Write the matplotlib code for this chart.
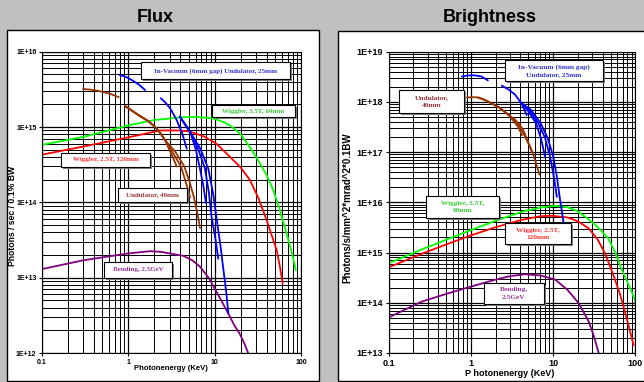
import matplotlib
matplotlib.use("Agg")
import matplotlib.pyplot as plt
from matplotlib.patches import Rectangle
from matplotlib.ticker import LogLocator, NullFormatter, FixedLocator, FixedFormatter

# ---------------- data: Flux panel ----------------
flux_wig35_E = [0.1, 0.3, 1, 2, 4.3, 6.5, 9.7, 13, 16, 20, 24, 28, 32, 40, 47.7, 57, 68, 78, 87]
flux_wig35_F = [5.8e14, 7.4e14, 1.05e15, 1.24e15, 1.35e15, 1.36e15, 1.3e15, 1.15e15, 1.0e15, 8.0e14,
                6.0e14, 4.6e14, 3.6e14, 2.3e14, 1.46e14, 7.8e13, 3.9e13, 2.2e13, 1.26e13]

flux_wig25_E = [0.1, 0.3, 1, 2.33, 3.96, 5.18, 7.5, 10.5, 15.1, 20, 25.6, 32, 40, 46, 52.4, 57, 61.4]
flux_wig25_F = [4.3e14, 5.5e14, 7.3e14, 9.0e14, 9.0e14, 8.7e14, 7.5e14, 6.0e14, 4.0e14, 2.9e14, 1.98e14,
                1.15e14, 5.8e13, 3.6e13, 2.3e13, 1.4e13, 8.4e12]

flux_bend_E = [0.1, 0.3, 1, 1.8, 2.4, 3, 4.33, 5.5, 6.76, 8.5, 10.5, 12.5, 15.1, 17, 19.5, 22, 24.4]
flux_bend_F = [1.3e13, 1.7e13, 2.1e13, 2.25e13, 2.2e13, 2.1e13, 1.95e13, 1.7e13, 1.4e13, 1.0e13, 6.5e12,
               4.5e12, 3.0e12, 2.3e12, 1.8e12, 1.35e12, 1.0e12]

flux_ivu_segs_E = [
    [0.80, 0.95, 1.14, 1.35, 1.56],
    [2.39, 2.7, 3.04, 3.63, 4.2, 4.74],
    [3.96, 4.5, 5.18, 6.0, 6.76, 7.4, 7.94],
    [3.96, 4.5, 5.18, 6.4, 7.73, 8.6, 9.25, 10.2, 11.0],
    [3.96, 4.5, 5.18, 6.8, 8.44, 9.6, 10.5, 11.6, 12.6, 13.6, 14.4],
]
flux_ivu_segs_F = [
    [4.9e15, 4.6e15, 4.1e15, 3.6e15, 3.1e15],
    [2.4e15, 2.1e15, 1.78e15, 1.24e15, 8.3e14, 5.2e14],
    [1.37e15, 1.1e15, 8.7e14, 5.2e14, 2.8e14, 1.65e14, 9.8e13],
    [1.37e15, 1.1e15, 8.7e14, 5.2e14, 2.8e14, 1.3e14, 6.2e13, 3.3e13, 1.8e13],
    [1.37e15, 1.1e15, 8.7e14, 5.2e14, 2.8e14, 1.3e14, 6.2e13, 2.8e13, 1.3e13, 6.5e12, 3.4e12],
]

flux_und_segs_E = [
    [0.30, 0.40, 0.49, 0.62, 0.77],
    [0.915, 1.1, 1.36, 1.7, 2.04, 2.35, 2.66, 3.2, 3.63],
    [0.915, 1.1, 1.36, 1.7, 2.04, 2.35, 2.66, 3.3, 4.07, 4.6, 5.18],
    [0.915, 1.1, 1.36, 1.7, 2.04, 2.35, 2.66, 3.5, 4.45, 5.1, 5.75, 6.3, 6.76],
]
flux_und_segs_F = [
    [3.2e15, 3.1e15, 2.95e15, 2.75e15, 2.5e15],
    [1.9e15, 1.65e15, 1.4e15, 1.2e15, 1.0e15, 8.3e14, 6.7e14, 4.2e14, 3.0e14],
    [1.9e15, 1.65e15, 1.4e15, 1.2e15, 1.0e15, 8.3e14, 6.7e14, 4.5e14, 3.0e14, 1.9e14, 1.17e14],
    [1.9e15, 1.65e15, 1.4e15, 1.2e15, 1.0e15, 8.3e14, 6.7e14, 4.7e14, 3.0e14, 1.9e14, 1.17e14, 7.2e13, 4.6e13],
]

# ---------------- data: Brightness panel ----------------
br_wig35_E = [0.1, 0.25, 0.5, 1, 2, 4.19, 7, 10.6, 15, 20, 27, 35, 47, 57, 69, 80, 90, 100]
br_wig35_B = [6.1e14, 1.15e15, 1.8e15, 2.8e15, 4.3e15, 6.5e15, 7.9e15, 8.5e15, 8.0e15, 6.6e15, 4.6e15,
              3.2e15, 1.9e15, 1.0e15, 4.5e14, 2.6e14, 1.7e14, 1.05e14]

br_wig25_E = [0.1, 0.25, 0.5, 1, 2, 4.19, 7, 9.7, 15, 20, 27, 35, 43, 50, 57, 65, 72, 85, 95]
br_wig25_B = [5.1e14, 9.4e14, 1.45e15, 2.2e15, 3.2e15, 4.5e15, 5.3e15, 5.4e15, 5.0e15, 4.2e15, 3.05e15,
              1.8e15, 9.5e14, 5.0e14, 2.8e14, 1.5e14, 8.3e13, 3.0e13, 1.45e13]

br_bend_E = [0.1, 0.25, 0.5, 1, 2, 3, 4.6, 7, 10.6, 15, 20.5, 27, 31, 35.9]
br_bend_B = [5.1e13, 1.05e14, 1.5e14, 2.1e14, 2.9e14, 3.4e14, 3.7e14, 3.5e14, 2.9e14, 1.8e14, 9.8e13,
             4.3e13, 2.3e13, 1.0e13]

br_ivu_segs_E = [
    [0.78, 0.9, 1.08, 1.35, 1.6],
    [2.39, 2.9, 3.44, 4.1, 4.77],
    [3.95, 5.0, 6.2, 7.1, 8.0],
    [3.95, 5.2, 6.6, 8.0, 9.17, 10.2, 11.1],
    [3.95, 5.4, 7.06, 8.6, 10.05, 11.1, 12.0, 12.8, 13.4],
]
br_ivu_segs_B = [
    [3.2e18, 3.35e18, 3.4e18, 3.2e18, 2.7e18],
    [2.1e18, 1.75e18, 1.4e18, 9.5e17, 5.5e17],
    [1.0e18, 6.5e17, 3.75e17, 1.9e17, 8.1e16],
    [1.0e18, 6.7e17, 3.75e17, 1.9e17, 8.1e16, 3.3e16, 1.3e16],
    [1.0e18, 6.9e17, 3.75e17, 1.9e17, 8.1e16, 3.3e16, 1.3e16, 6.5e15, 3.9e15],
]

br_und_segs_E = [
    [0.9, 1.05, 1.24, 1.45, 1.65, 2.2, 2.88, 3.3, 3.74, 4.19],
    [1.24, 1.45, 1.65, 2.2, 2.88, 3.3, 3.8, 4.3, 4.77, 5.2, 5.53],
    [1.65, 2.2, 2.88, 3.4, 3.9, 4.4, 4.96, 5.6, 6.2, 6.8],
]
br_und_segs_B = [
    [1.23e18, 1.24e18, 1.23e18, 1.12e18, 1.0e18, 7.8e17, 5.5e17, 4.2e17, 3.2e17, 2.2e17],
    [1.2e18, 1.1e18, 1.0e18, 7.7e17, 5.5e17, 4.4e17, 3.5e17, 2.5e17, 1.74e17, 1.3e17, 1.0e17],
    [1.0e18, 7.8e17, 5.5e17, 4.5e17, 3.6e17, 2.6e17, 1.6e17, 1.0e17, 6.0e16, 3.6e16],
]

xtick_vals = [0.1, 1, 10, 100]
xtick_labels = ["0.1", "1", "10", "100"]
flux_ytick_vals = [1e12, 1e13, 1e14, 1e15, 1e16]
flux_ytick_labels = ["1E+12", "1E+13", "1E+14", "1E+15", "1E+16"]
br_ytick_vals = [1e13, 1e14, 1e15, 1e16, 1e17, 1e18, 1e19]
br_ytick_labels = ["1E+13", "1E+14", "1E+15", "1E+16", "1E+17", "1E+18", "1E+19"]

C_BLUE = "#0000FF"
C_GREEN = "#00FF00"
C_RED = "#FF0000"
C_BROWN = "#993300"
C_PURPLE = "#800080"

W, H = 644, 382
fig = plt.figure(figsize=(W / 100, H / 100), dpi=100, facecolor="#C0C0C0")

# white panels
fig.patches.append(Rectangle((7 / W, 1 - 381 / H), 311.5 / W, 351.5 / H, transform=fig.transFigure,
                             facecolor="white", edgecolor="black", lw=1.0, zorder=-10))
fig.patches.append(Rectangle((338 / W, 1 - 381 / H), 320 / W, 350.5 / H, transform=fig.transFigure,
                             facecolor="white", edgecolor="black", lw=1.0, zorder=-10))

fig.text(155 / W, 1 - 17 / H, "Flux", ha="center", va="center", fontsize=13, fontweight="bold",
         family="Liberation Sans")
fig.text(490 / W, 1 - 17 / H, "Brightness", ha="center", va="center", fontsize=13, fontweight="bold",
         family="Liberation Sans")

ax1 = fig.add_axes([42 / W, 1 - 353 / H, 259 / W, 301.3 / H], zorder=2)
ax2 = fig.add_axes([388.7 / W, 1 - 353 / H, 246.6 / W, 301.3 / H], zorder=2)


def style_axes(ax, yvals, ylabels, ylim, fs_tick):
    ax.set_xscale("log")
    ax.set_yscale("log")
    ax.set_xlim(0.1, 100)
    ax.set_ylim(*ylim)
    ax.set_facecolor("white")
    ax.xaxis.set_major_locator(FixedLocator(xtick_vals))
    ax.xaxis.set_major_formatter(FixedFormatter(xtick_labels))
    ax.yaxis.set_major_locator(FixedLocator(yvals))
    ax.yaxis.set_major_formatter(FixedFormatter(ylabels))
    ax.xaxis.set_minor_locator(LogLocator(base=10, subs=range(2, 10), numticks=20))
    ax.yaxis.set_minor_locator(LogLocator(base=10, subs=range(2, 10), numticks=20))
    ax.xaxis.set_minor_formatter(NullFormatter())
    ax.yaxis.set_minor_formatter(NullFormatter())
    ax.grid(True, which="major", color="black", lw=0.9)
    ax.grid(True, which="minor", color="black", lw=0.7)
    ax.set_axisbelow(True)
    ax.tick_params(which="major", length=2.5, width=0.8, direction="out", pad=1.5)
    ax.tick_params(which="minor", length=0)
    for lab in ax.get_xticklabels() + ax.get_yticklabels():
        lab.set_fontsize(fs_tick)
        lab.set_fontweight("bold")
        lab.set_family("Liberation Sans")
    for s in ax.spines.values():
        s.set_color("black")
        s.set_linewidth(0.8)


style_axes(ax1, flux_ytick_vals, flux_ytick_labels, (1e12, 1e16), 5)
style_axes(ax2, br_ytick_vals, br_ytick_labels, (1e13, 1e19), 6.5)

LW = 1.3
# Flux curves
ax1.plot(flux_wig35_E, flux_wig35_F, color=C_GREEN, lw=LW)
ax1.plot(flux_wig25_E, flux_wig25_F, color=C_RED, lw=LW)
ax1.plot(flux_bend_E, flux_bend_F, color=C_PURPLE, lw=LW)
for e, f in zip(flux_und_segs_E, flux_und_segs_F):
    ax1.plot(e, f, color=C_BROWN, lw=LW)
for e, f in zip(flux_ivu_segs_E, flux_ivu_segs_F):
    ax1.plot(e, f, color=C_BLUE, lw=LW)

# Brightness curves
ax2.plot(br_wig35_E, br_wig35_B, color=C_GREEN, lw=LW)
ax2.plot(br_wig25_E, br_wig25_B, color=C_RED, lw=LW)
ax2.plot(br_bend_E, br_bend_B, color=C_PURPLE, lw=LW)
for e, b in zip(br_und_segs_E, br_und_segs_B):
    ax2.plot(e, b, color=C_BROWN, lw=LW)
for e, b in zip(br_ivu_segs_E, br_ivu_segs_B):
    ax2.plot(e, b, color=C_BLUE, lw=LW)


def label_box(ax, x0, x1, y0, y1, text, color, fs):
    bb = ax.get_position()
    dx = 2.0 / (bb.width * W)
    dy = 2.0 / (bb.height * H)
    ax.add_patch(Rectangle((x0 + dx, y0 - dy), x1 - x0, y1 - y0, transform=ax.transAxes,
                           facecolor="#808080", edgecolor="none", zorder=5, clip_on=False))
    ax.add_patch(Rectangle((x0, y0), x1 - x0, y1 - y0, transform=ax.transAxes,
                           facecolor="white", edgecolor="black", lw=0.8, zorder=6, clip_on=False))
    ax.text((x0 + x1) / 2, (y0 + y1) / 2, text, transform=ax.transAxes, ha="center", va="center",
            color=color, fontsize=fs, fontweight="bold", family="Liberation Serif", zorder=7,
            linespacing=1.6)


# Flux labels (axes fraction)
label_box(ax1, 0.381, 0.958, 0.908, 0.965, "In-Vacuum (6mm gap) Undulator, 25mm", "#3333CC", 5)
label_box(ax1, 0.655, 0.977, 0.782, 0.823, "Wiggler, 3.5T, 60mm", "#33CC33", 5)
label_box(ax1, 0.0734, 0.417, 0.618, 0.665, "Wiggler, 2.5T, 120mm", "#FF3333", 5)
label_box(ax1, 0.295, 0.561, 0.502, 0.547, "Undulator, 40mm", "#993333", 5)
label_box(ax1, 0.240, 0.503, 0.250, 0.303, "Bending, 2.5GeV", "#993399", 5)

# Brightness labels
label_box(ax2, 0.473, 0.868, 0.903, 0.973, "In-Vacuum (6mm gap)\nUndulator, 25mm", "#3333CC", 5.3)
label_box(ax2, 0.043, 0.304, 0.797, 0.873, "Undulator,\n40mm", "#993333", 5.3)
label_box(ax2, 0.151, 0.446, 0.449, 0.522, "Wiggler, 3.5T,\n60mm", "#33CC33", 5.3)
label_box(ax2, 0.470, 0.740, 0.361, 0.430, "Wiggler, 2.5T,\n120mm", "#FF3333", 5.3)
label_box(ax2, 0.385, 0.628, 0.161, 0.233, "Bending,\n2.5GeV", "#993399", 5.3)

# axis titles
fig.text(13 / W, 1 - 216 / H, "Photons / sec / 0.1% BW", rotation=90, ha="center", va="center",
         fontsize=6.2, fontweight="bold", family="Liberation Sans")
fig.text(347 / W, 1 - 208 / H, "Photons/s/mm^2*mrad^2*0.1BW", rotation=90, ha="center", va="center",
         fontsize=7, fontweight="bold", family="Liberation Sans")
fig.text(170.7 / W, 1 - 368.5 / H, "Photonenergy (KeV)", ha="center", va="center",
         fontsize=5.5, fontweight="bold", family="Liberation Sans")
fig.text(510 / W, 1 - 374 / H, "P hotonenergy (KeV)", ha="center", va="center",
         fontsize=6.5, fontweight="bold", family="Liberation Sans")

fig.savefig("out.png", dpi=100, facecolor=fig.get_facecolor())
